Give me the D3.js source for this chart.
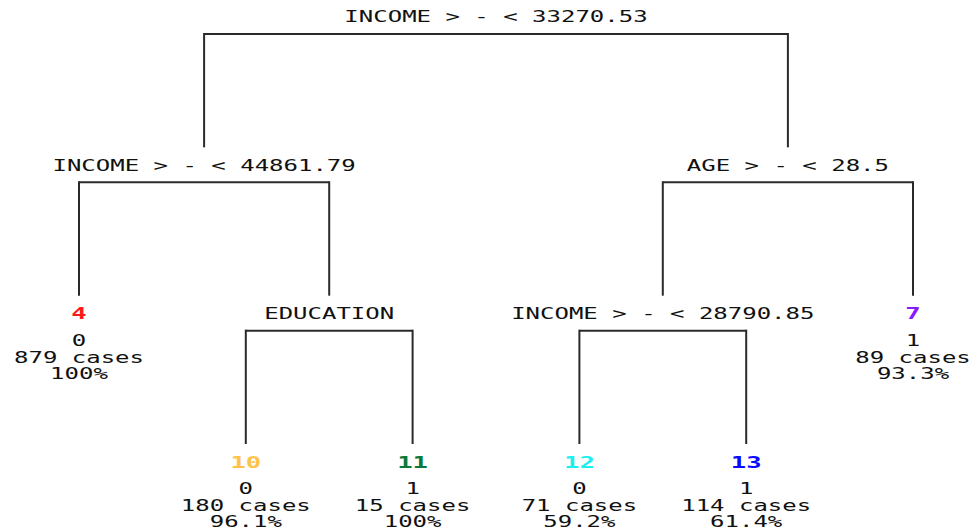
<!DOCTYPE html>
<html>
<head>
<meta charset="utf-8">
<script src="https://cdn.jsdelivr.net/npm/d3@7"></script>
<style>
  html, body { margin: 0; padding: 0; background: #fff; }
  svg { display: block; }
</style>
</head>
<body>
<div id="chart"></div>
<script>
// tree structure
const nodeIds   = ['1', '2', '3', '4', '5', '6', '7', '10', '11', '12', '13'];
const parentIds = ['',  '1', '1', '2', '2', '3', '3', '5',  '5',  '6',  '6'];

// split nodes
const splitIds   = ['1', '2', '3', '5', '6'];
const splitTexts = ['INCOME > - < 33270.53', 'INCOME > - < 44861.79', 'AGE > - < 28.5',
                    'EDUCATION', 'INCOME > - < 28790.85'];

// leaf nodes
const leafIds    = ['4', '10', '11', '12', '13', '7'];
const leafClass  = ['0', '0', '1', '0', '1', '1'];
const leafCases  = [879, 180, 15, 71, 114, 89];
const leafPct    = ['100%', '96.1%', '100%', '59.2%', '61.4%', '93.3%'];
const leafColors = ['#ff1a1a', '#ffc447', '#0a7a3a', '#19f0f0', '#0a0aff', '#8a1aff'];

const width = 972, height = 530;
const stretch = 1.6;   // the original font is very wide

const svg = d3.select('#chart').append('svg')
    .attr('width', width)
    .attr('height', height);

const root = d3.stratify()
    .id((d, i) => nodeIds[i])
    .parentId((d, i) => parentIds[i] || null)(nodeIds);

// leaves spaced evenly, parents centred over their children
const xLeaf = d3.scalePoint().domain(root.leaves().map(d => d.id)).range([79, 913]);
const yDepth = d3.scaleLinear().domain([0, 3]).range([17, 462]);

root.eachAfter(d => {
    d.x = d.children ? d3.mean(d.children, c => c.x) : xLeaf(d.id);
    d.y = yDepth(d.depth);
});

function addText(x, y, str, opts = {}) {
    svg.append('g')
        .attr('transform', `translate(${x},${y})`)
        .append('text')
        .attr('transform', `scale(${stretch},1)`)
        .attr('text-anchor', 'middle')
        .attr('dominant-baseline', 'central')
        .style('font-family', '"DejaVu Sans Mono", monospace')
        .style('font-size', (opts.size || 15) + 'px')
        .style('font-weight', opts.bold ? 'bold' : 'normal')
        .attr('fill', opts.color || '#111')
        .text(str);
}

// connectors
const lineColor = '#2a2a2a';
root.descendants().filter(d => d.children).forEach(d => {
    const barY = d.y + 17;
    const xs = d.children.map(c => c.x);
    svg.append('line')
        .attr('x1', d3.min(xs)).attr('x2', d3.max(xs))
        .attr('y1', barY).attr('y2', barY)
        .attr('stroke', lineColor).attr('stroke-width', 2);
    d.children.forEach(c => {
        svg.append('line')
            .attr('x1', c.x).attr('x2', c.x)
            .attr('y1', barY - 1).attr('y2', c.y - 18)
            .attr('stroke', lineColor).attr('stroke-width', 2);
    });
});

// split labels
splitIds.forEach((id, i) => {
    const n = root.find(d => d.id === id);
    addText(n.x, n.y, splitTexts[i]);
});

// leaf labels
leafIds.forEach((id, i) => {
    const n = root.find(d => d.id === id);
    addText(n.x, n.y, id, { bold: true, color: leafColors[i], size: 16 });
    addText(n.x, n.y + 27, leafClass[i]);
    addText(n.x, n.y + 44, leafCases[i] + ' cases');
    addText(n.x, n.y + 60, leafPct[i]);
});
</script>
</body>
</html>
